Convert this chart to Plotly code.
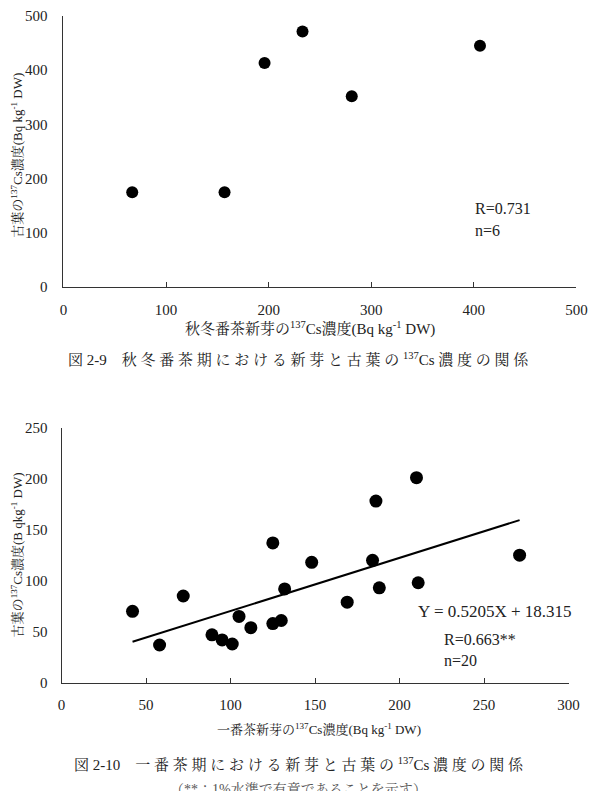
import plotly.graph_objects as go

# Fig 2-9 data
aut_new = [67, 157, 196, 233, 281, 406]
aut_old = [175, 175, 413, 471, 352, 445]

# Fig 2-10 data
first_new = [42, 58, 72, 89, 95, 101, 105, 112, 125, 125, 130, 132, 148, 169, 184, 186, 188, 210, 211, 271]
first_old = [70, 37, 85, 47, 42, 38, 65, 54, 137, 58, 61, 92, 118, 79, 120, 178, 93, 201, 98, 125]
slope, intercept = 0.5205, 18.315
fit_x = [min(first_new), max(first_new)]
fit_y = [slope * v + intercept for v in fit_x]

W, H = 604, 791
def px(x): return x / W
def py(y): return 1 - y / H

SERIF = "Liberation Serif, Noto Serif CJK JP, Noto Sans CJK JP, serif"
TXT = "#222222"

fig = go.Figure()
fig.add_trace(go.Scatter(x=aut_new, y=aut_old, mode="markers",
                         marker=dict(color="black", size=12), xaxis="x", yaxis="y", showlegend=False))
fig.add_trace(go.Scatter(x=first_new, y=first_old, mode="markers",
                         marker=dict(color="black", size=13), xaxis="x2", yaxis="y2", showlegend=False))
fig.add_trace(go.Scatter(x=fit_x, y=fit_y, mode="lines",
                         line=dict(color="black", width=2), xaxis="x2", yaxis="y2", showlegend=False))

axcommon = dict(showline=True, linecolor="#333333", linewidth=1.2, showgrid=False, zeroline=False,
                tickfont=dict(family=SERIF, size=15, color=TXT), mirror=False)

fig.update_layout(
    width=W, height=H, margin=dict(l=0, r=0, t=0, b=0),
    paper_bgcolor="white", plot_bgcolor="white",
    xaxis=dict(domain=[px(61), px(587)], range=[0, 500], dtick=100, anchor="y",
               ticks="inside", ticklen=5, tickcolor="#333333", ticklabelstandoff=9, **axcommon),
    yaxis=dict(domain=[py(285), py(8)], range=[0, 500], dtick=100, anchor="x",
               ticks="", ticklabelstandoff=12, **axcommon),
    xaxis2=dict(domain=[px(59), px(579)], range=[0, 300], dtick=50, anchor="y2",
                ticks="inside", ticklen=5, tickcolor="#333333", ticklabelstandoff=8, **axcommon),
    yaxis2=dict(domain=[py(688.7), py(428.3)], range=[0, 250], dtick=50, anchor="x2",
                ticks="", ticklabelstandoff=10, **axcommon),
)

def ann(text, x, y, size, xanchor="center", angle=0, family=SERIF, color=TXT):
    fig.add_annotation(text=text, x=px(x), y=py(y), xref="paper", yref="paper",
                       showarrow=False, xanchor=xanchor, yanchor="middle", textangle=angle,
                       font=dict(family=family, size=size, color=color))

# Top chart titles
ann("秋冬番茶新芽の<sup>137</sup>Cs濃度(Bq kg<sup>-1</sup> DW)", 314, 327, 15)
ann("古葉の<sup>137</sup>Cs濃度(Bq kg<sup>-1</sup> DW)", 13, 150, 13, angle=-90)
ann("R=0.731", 481, 205, 16, xanchor="left")
ann("n=6", 481, 227, 16, xanchor="left")
ann("図 2-9　秋 冬 番 茶 期 に お け る 新 芽 と 古 葉 の <sup>137</sup>Cs 濃 度 の 関 係", 302, 358, 15)

# Bottom chart titles
ann("一番茶新芽の<sup>137</sup>Cs濃度(Bq kg<sup>-1</sup> DW)", 323, 736, 13)
ann("古葉の<sup>137</sup>Cs濃度(B qkg<sup>-1</sup> DW)", 13, 558, 13, angle=-90)
ann("Y = 0.5205X + 18.315", 503, 616, 17)
ann("R=0.663**", 449, 645, 16, xanchor="left")
ann("n=20", 449, 666, 16, xanchor="left")
ann("図 2-10　一 番 茶 期 に お け る 新 芽 と 古 葉 の <sup>137</sup>Cs 濃 度 の 関 係", 302, 772, 15)
ann("（**：1%水準で有意であることを示す）", 302, 797, 14, color="#555555")

fig.write_html("out.html")
